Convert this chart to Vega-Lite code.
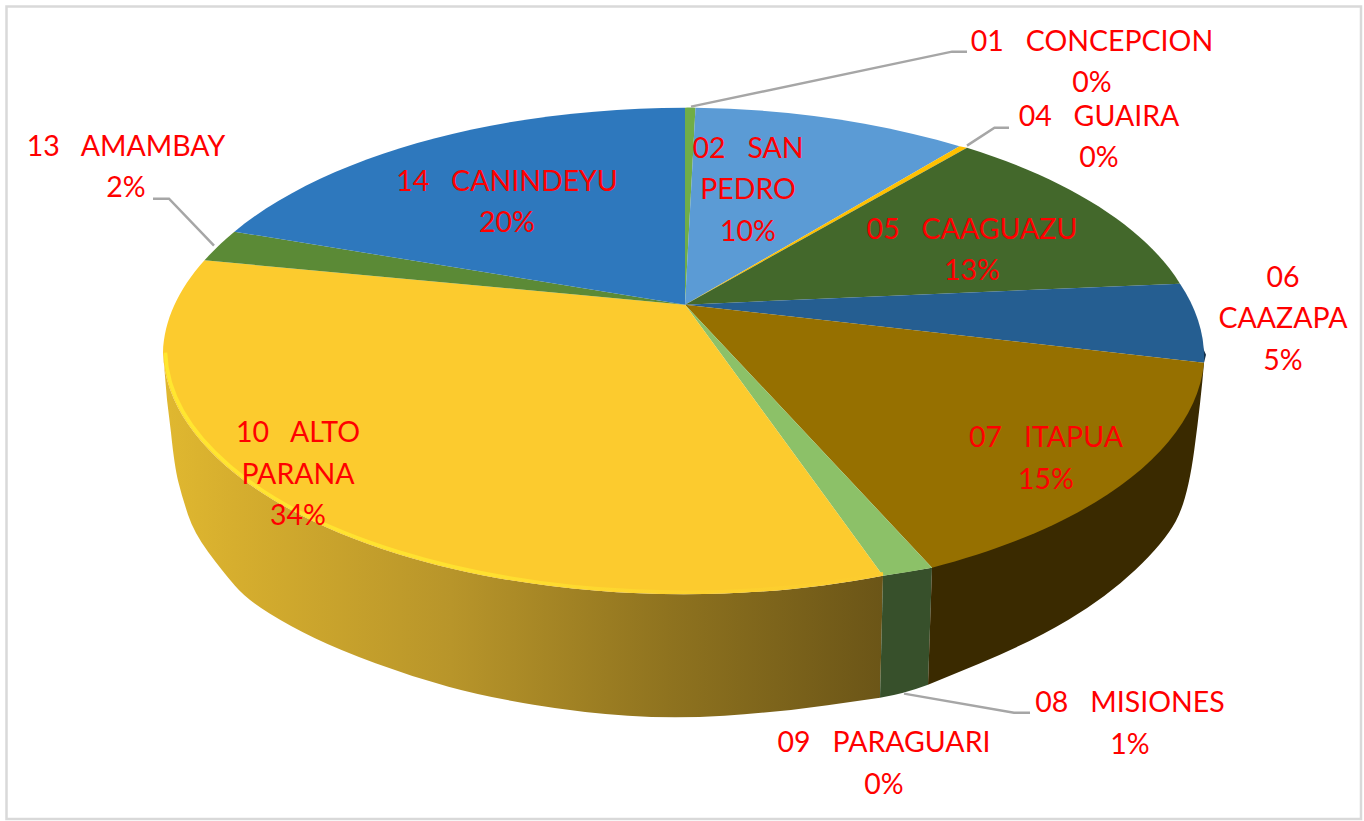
{"$schema":"https://vega.github.io/schema/vega-lite/v6.json","autosize":{"type":"fit","contains":"padding"},"width":1364,"height":821,"padding":0,"background":"white","config":{"view":{"stroke":null}},
"data":{"values":[
{"code":"01","dept":"CONCEPCION","pct":0,"label":"01\u00a0\u00a0\u00a0CONCEPCION|0%"},
{"code":"02","dept":"SAN PEDRO","pct":10,"label":"02\u00a0\u00a0\u00a0SAN|PEDRO|10%"},
{"code":"04","dept":"GUAIRA","pct":0,"label":"04\u00a0\u00a0\u00a0GUAIRA|0%"},
{"code":"05","dept":"CAAGUAZU","pct":13,"label":"05\u00a0\u00a0\u00a0CAAGUAZU|13%"},
{"code":"06","dept":"CAAZAPA","pct":5,"label":"06|CAAZAPA|5%"},
{"code":"07","dept":"ITAPUA","pct":15,"label":"07\u00a0\u00a0\u00a0ITAPUA|15%"},
{"code":"08","dept":"MISIONES","pct":1,"label":"08\u00a0\u00a0\u00a0MISIONES|1%"},
{"code":"09","dept":"PARAGUARI","pct":0,"label":"09\u00a0\u00a0\u00a0PARAGUARI|0%"},
{"code":"10","dept":"ALTO PARANA","pct":34,"label":"10\u00a0\u00a0\u00a0ALTO|PARANA|34%"},
{"code":"13","dept":"AMAMBAY","pct":2,"label":"13\u00a0\u00a0\u00a0AMAMBAY|2%"},
{"code":"14","dept":"CANINDEYU","pct":20,"label":"14\u00a0\u00a0\u00a0CANINDEYU|20%"}
]},
"encoding":{"x":{"datum":685,"type":"quantitative","scale":{"domain":[0,1364],"nice":false,"zero":false},"axis":null},"y":{"datum":305,"type":"quantitative","scale":{"domain":[0,821],"nice":false,"zero":false,"reverse":true},"axis":null}},
"layer":[
{"transform":[{"filter":"datum.code=='01'"}],"mark":{"type":"rect","fill":null,"stroke":"#d9d9d9","strokeWidth":2.5},"encoding":{"x":{"datum":6.5},"x2":{"datum":1361},"y":{"datum":6.5},"y2":{"datum":820}}},
{"transform":[{"filter":"datum.code=='10'"}],"mark":{"type":"point","filled":true,"size":4,"opacity":1,"shape":"M-522 48 L-518 95 L-514 128 Q-510.5 162 -506.7 177 Q-503 192 -497 210 Q-491 228 -477 247 Q-463 266 -450 281 Q-438 295 -415 309 Q-394 322 -370 333.5 Q-346 345 -309.5 358.5 Q-273 372 -236.5 382 Q-200 392 -151.5 400 Q-103 408 -57 411 Q-11 414 39.5 411 Q90 408 142.5 400.5 L195 393 L198 271 A521 245.5 0 0 1 -522 48 Z","fill":{"gradient":"linear","x1":0,"x2":1,"y1":0,"y2":0,"stops":[{"offset":0,"color":"#e0b830"},{"offset":0.1,"color":"#d6ae2e"},{"offset":0.4,"color":"#b8952a"},{"offset":0.7,"color":"#8f731f"},{"offset":1,"color":"#6b5517"}]}}},
{"transform":[{"filter":"datum.code=='08'"}],"mark":{"type":"point","filled":true,"size":4,"opacity":1,"color":"#37502b","shape":"M198 271 L195 393 Q219 389 243 380 L247 263 Z"}},
{"transform":[{"filter":"datum.code=='07'"}],"mark":{"type":"point","filled":true,"size":4,"opacity":1,"color":"#3a2a00","shape":"M247 263 L243 380 L294 359 Q345 338 383.5 315 Q422 292 450.5 265 Q479 238 490.8 216.5 Q502.6 195 509.3 145 Q516 95 519 58 A521 245.5 0 0 0 247 263 Z"}},
{"transform":[{"filter":"datum.code=='06'"}],"mark":{"type":"point","filled":true,"size":4,"opacity":1,"color":"#14304a","shape":"M505 15 L521 50 L519 58 Z"}},
{"transform":[{"filter":"datum.code!='09'"}],"mark":{"type":"point","filled":true,"size":4,"opacity":1},"encoding":{
"shape":{"field":"code","type":"nominal","legend":null,"scale":{"domain":["01","02","04","05","06","07","08","10","13","14"],"range":[
"M0 0 L0 -197 A521 245.5 0 0 1 10.5 -197 Z",
"M0 0 L10.5 -197 A521 245.5 0 0 1 274.5 -158.3 Z",
"M0 0 L274.5 -158.3 A521 245.5 0 0 1 282 -157 Z",
"M0 0 L282 -157 A521 245.5 0 0 1 495 -21 Z",
"M0 0 L495 -21 A521 245.5 0 0 1 519 58 Z",
"M0 0 L519 58 A521 245.5 0 0 1 247 263 Z",
"M0 0 L247 263 A521 245.5 0 0 1 198 271 Z",
"M0 0 L198 271 A521 245.5 0 0 1 -522 48 A521 245.5 0 0 1 -480.5 -44.3 Z",
"M0 0 L-480.5 -44.3 A521 245.5 0 0 1 -450.6 -73 Z",
"M0 0 L-450.6 -73 A521 245.5 0 0 1 0 -197 Z"]}},
"color":{"field":"code","type":"nominal","legend":null,"scale":{"domain":["01","02","04","05","06","07","08","10","13","14"],"range":["#70ad47","#5b9bd5","#ffc000","#43682b","#255e91","#967000","#8cc168","#fccb2e","#5b8a36","#2e78bd"]}}}},
{"transform":[{"filter":"datum.code=='10'"}],"mark":{"type":"point","filled":false,"size":4,"opacity":1,"strokeWidth":3.5,"shape":"M198 269 A519 243.5 0 0 1 -519.5 48","stroke":{"gradient":"linear","x1":1,"x2":0,"y1":0,"y2":0,"stops":[{"offset":0,"color":"#fccb2e"},{"offset":0.3,"color":"#fdd32e"},{"offset":0.55,"color":"#fee030"},{"offset":1,"color":"#ffe730"}]}}},
{"transform":[{"filter":"datum.code=='01'"}],"mark":{"type":"point","filled":false,"size":4,"opacity":1,"strokeWidth":2.5,"stroke":"#a6a6a6","shape":"M6 -198 L267 -253 L282 -253"}},
{"transform":[{"filter":"datum.code=='04'"}],"mark":{"type":"point","filled":false,"size":4,"opacity":1,"strokeWidth":2.5,"stroke":"#a6a6a6","shape":"M282 -159 L309.5 -177 L324 -177"}},
{"transform":[{"filter":"datum.code=='08'"}],"mark":{"type":"point","filled":false,"size":4,"opacity":1,"strokeWidth":2.5,"stroke":"#a6a6a6","shape":"M219 389 L329 408 L345 408"}},
{"transform":[{"filter":"datum.code=='13'"}],"mark":{"type":"point","filled":false,"size":4,"opacity":1,"strokeWidth":2.5,"stroke":"#a6a6a6","shape":"M-471 -59 L-516 -106 L-532 -106"}},
{"transform":[{"filter":"datum.code=='01'"}],"mark":{"type":"text","font":"Lato","fontSize":28.5,"color":"#ff0000","align":"center","baseline":"alphabetic","lineBreak":"|","lineHeight":41.5},"encoding":{"text":{"field":"label"},"x":{"datum":1092},"y":{"datum":51}}},
{"transform":[{"filter":"datum.code=='02'"}],"mark":{"type":"text","font":"Lato","fontSize":28.5,"color":"#ff0000","align":"center","baseline":"alphabetic","lineBreak":"|","lineHeight":41.5},"encoding":{"text":{"field":"label"},"x":{"datum":748},"y":{"datum":158}}},
{"transform":[{"filter":"datum.code=='04'"}],"mark":{"type":"text","font":"Lato","fontSize":28.5,"color":"#ff0000","align":"center","baseline":"alphabetic","lineBreak":"|","lineHeight":41.5},"encoding":{"text":{"field":"label"},"x":{"datum":1099},"y":{"datum":126}}},
{"transform":[{"filter":"datum.code=='05'"}],"mark":{"type":"text","font":"Lato","fontSize":28.5,"color":"#ff0000","align":"center","baseline":"alphabetic","lineBreak":"|","lineHeight":41.5},"encoding":{"text":{"field":"label"},"x":{"datum":972},"y":{"datum":239}}},
{"transform":[{"filter":"datum.code=='06'"}],"mark":{"type":"text","font":"Lato","fontSize":28.5,"color":"#ff0000","align":"center","baseline":"alphabetic","lineBreak":"|","lineHeight":41.5},"encoding":{"text":{"field":"label"},"x":{"datum":1283},"y":{"datum":287}}},
{"transform":[{"filter":"datum.code=='07'"}],"mark":{"type":"text","font":"Lato","fontSize":28.5,"color":"#ff0000","align":"center","baseline":"alphabetic","lineBreak":"|","lineHeight":41.5},"encoding":{"text":{"field":"label"},"x":{"datum":1046},"y":{"datum":448}}},
{"transform":[{"filter":"datum.code=='08'"}],"mark":{"type":"text","font":"Lato","fontSize":28.5,"color":"#ff0000","align":"center","baseline":"alphabetic","lineBreak":"|","lineHeight":41.5},"encoding":{"text":{"field":"label"},"x":{"datum":1130},"y":{"datum":713}}},
{"transform":[{"filter":"datum.code=='09'"}],"mark":{"type":"text","font":"Lato","fontSize":28.5,"color":"#ff0000","align":"center","baseline":"alphabetic","lineBreak":"|","lineHeight":41.5},"encoding":{"text":{"field":"label"},"x":{"datum":884},"y":{"datum":753}}},
{"transform":[{"filter":"datum.code=='10'"}],"mark":{"type":"text","font":"Lato","fontSize":28.5,"color":"#ff0000","align":"center","baseline":"alphabetic","lineBreak":"|","lineHeight":41.5},"encoding":{"text":{"field":"label"},"x":{"datum":298},"y":{"datum":443}}},
{"transform":[{"filter":"datum.code=='13'"}],"mark":{"type":"text","font":"Lato","fontSize":28.5,"color":"#ff0000","align":"center","baseline":"alphabetic","lineBreak":"|","lineHeight":41.5},"encoding":{"text":{"field":"label"},"x":{"datum":126},"y":{"datum":156}}},
{"transform":[{"filter":"datum.code=='14'"}],"mark":{"type":"text","font":"Lato","fontSize":28.5,"color":"#ff0000","align":"center","baseline":"alphabetic","lineBreak":"|","lineHeight":41.5},"encoding":{"text":{"field":"label"},"x":{"datum":507},"y":{"datum":191}}}
]}
